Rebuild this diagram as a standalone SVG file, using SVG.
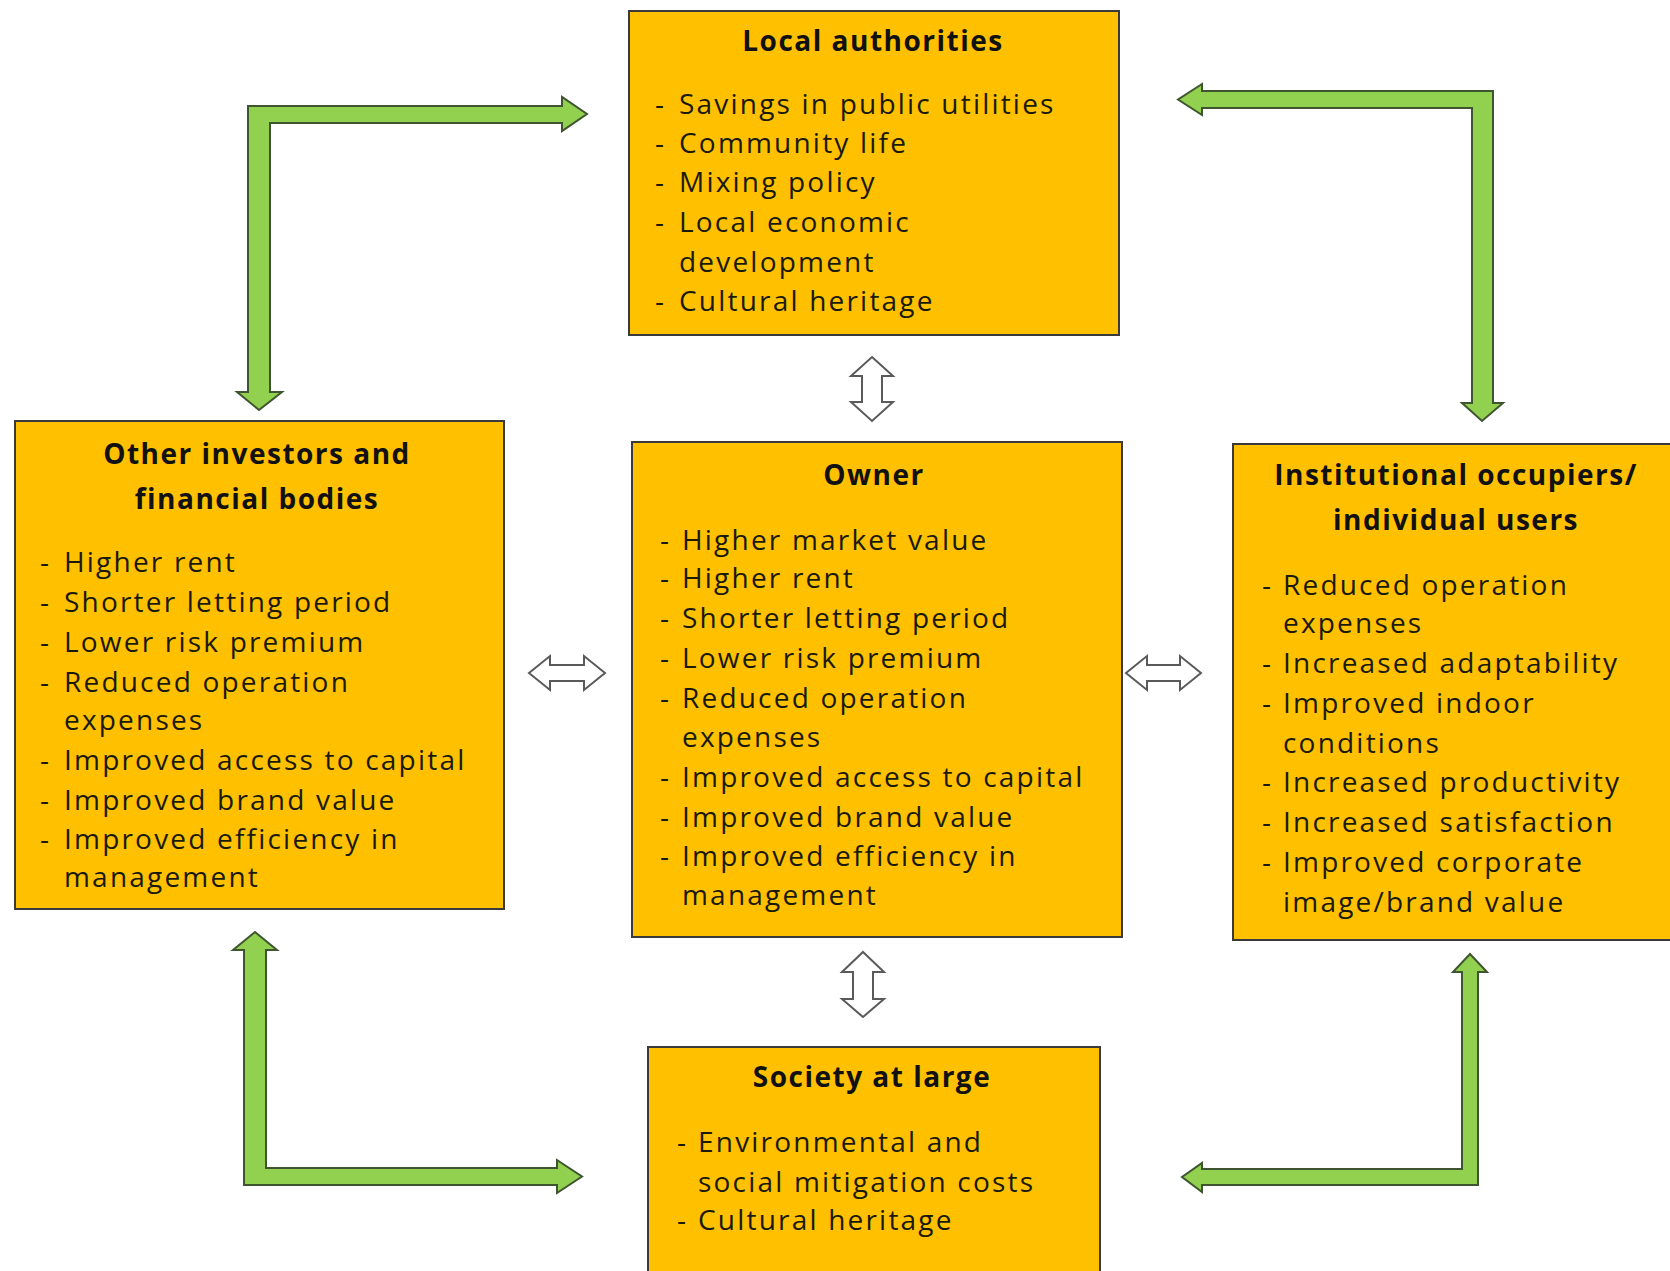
<svg xmlns="http://www.w3.org/2000/svg" width="1670" height="1271" viewBox="0 0 1670 1271">
<style>
.box{fill:#FFC000;stroke:#3a3a3a;stroke-width:2}
.t{font-family:"Open Sans","Noto Sans",sans-serif;font-weight:700;font-size:28px;letter-spacing:1.5px;fill:#111;text-anchor:middle}
.i{font-family:"Open Sans","Noto Sans",sans-serif;font-size:28px;letter-spacing:2.2px;fill:#1a1a0c}
.g{fill:#92D050;stroke:#3f5530;stroke-width:2;stroke-linejoin:miter}
.h{fill:#fff;stroke:#5a5a5a;stroke-width:2}
</style>
<rect width="1670" height="1271" fill="#fff"/>
<g id="connectors">
<polygon class="g" points="248,106 562,106 562,97 587,114 562,131 562,123 270,123 270,392 282,392 259,410 237,392 248,392"/>
<polygon class="g" points="1493,91 1493,403 1503,403 1482,421 1462,403 1472,403 1472,108 1202,108 1202,115 1178,99.5 1202,84 1202,91"/>
<polygon class="g" points="244,1185 244,950 233,950 255,932 277,950 266,950 266,1168 557,1168 557,1160 582,1176.5 557,1193 557,1185"/>
<polygon class="g" points="1478,1185 1202,1185 1202,1192 1182,1177 1202,1163 1202,1169 1462,1169 1462,972 1453,972 1470,954 1487,972 1478,972"/>
<polygon class="h" points="872,357 893,376 882,376 882,402 893,402 872,421 851,402 862,402 862,376 851,376"/>
<polygon class="h" points="863,952 884,972 873,972 873,999 884,999 863,1017 842,999 853,999 853,972 842,972"/>
<polygon class="h" points="529,673 550,656 550,665 584,665 584,656 605,673 584,690 584,681 550,681 550,690"/>
<polygon class="h" points="1126,673 1147,656 1147,665 1180,665 1180,656 1201,673 1180,690 1180,681 1147,681 1147,690"/>
</g>
<g id="local-authorities">
<rect class="box" x="629" y="11" width="490" height="324"/>
<text class="t" x="873" y="51">Local authorities</text>
<text class="i" y="114"><tspan x="655">-</tspan><tspan x="679">Savings in public utilities</tspan></text>
<text class="i" y="153"><tspan x="655">-</tspan><tspan x="679">Community life</tspan></text>
<text class="i" y="192"><tspan x="655">-</tspan><tspan x="679">Mixing policy</tspan></text>
<text class="i" y="232"><tspan x="655">-</tspan><tspan x="679">Local economic</tspan></text>
<text class="i" x="679" y="272">development</text>
<text class="i" y="311"><tspan x="655">-</tspan><tspan x="679">Cultural heritage</tspan></text>
</g>
<g id="other-investors">
<rect class="box" x="15" y="421" width="489" height="488"/>
<text class="t" x="257" y="464">Other investors and</text>
<text class="t" x="257" y="509">financial bodies</text>
<text class="i" y="572"><tspan x="40">-</tspan><tspan x="64">Higher rent</tspan></text>
<text class="i" y="612"><tspan x="40">-</tspan><tspan x="64">Shorter letting period</tspan></text>
<text class="i" y="652"><tspan x="40">-</tspan><tspan x="64">Lower risk premium</tspan></text>
<text class="i" y="692"><tspan x="40">-</tspan><tspan x="64">Reduced operation</tspan></text>
<text class="i" x="64" y="730">expenses</text>
<text class="i" y="770"><tspan x="40">-</tspan><tspan x="64">Improved access to capital</tspan></text>
<text class="i" y="810"><tspan x="40">-</tspan><tspan x="64">Improved brand value</tspan></text>
<text class="i" y="849"><tspan x="40">-</tspan><tspan x="64">Improved efficiency in</tspan></text>
<text class="i" x="64" y="887">management</text>
</g>
<g id="owner">
<rect class="box" x="632" y="442" width="490" height="495"/>
<text class="t" x="874" y="485">Owner</text>
<text class="i" y="550"><tspan x="660">-</tspan><tspan x="682">Higher market value</tspan></text>
<text class="i" y="588"><tspan x="660">-</tspan><tspan x="682">Higher rent</tspan></text>
<text class="i" y="628"><tspan x="660">-</tspan><tspan x="682">Shorter letting period</tspan></text>
<text class="i" y="668"><tspan x="660">-</tspan><tspan x="682">Lower risk premium</tspan></text>
<text class="i" y="708"><tspan x="660">-</tspan><tspan x="682">Reduced operation</tspan></text>
<text class="i" x="682" y="747">expenses</text>
<text class="i" y="787"><tspan x="660">-</tspan><tspan x="682">Improved access to capital</tspan></text>
<text class="i" y="827"><tspan x="660">-</tspan><tspan x="682">Improved brand value</tspan></text>
<text class="i" y="866"><tspan x="660">-</tspan><tspan x="682">Improved efficiency in</tspan></text>
<text class="i" x="682" y="905">management</text>
</g>
<g id="institutional-occupiers">
<rect class="box" x="1233" y="444" width="445" height="496"/>
<text class="t" x="1456" y="485">Institutional occupiers/</text>
<text class="t" x="1456" y="530">individual users</text>
<text class="i" y="595"><tspan x="1262">-</tspan><tspan x="1283">Reduced operation</tspan></text>
<text class="i" x="1283" y="633">expenses</text>
<text class="i" y="673"><tspan x="1262">-</tspan><tspan x="1283">Increased adaptability</tspan></text>
<text class="i" y="713"><tspan x="1262">-</tspan><tspan x="1283">Improved indoor</tspan></text>
<text class="i" x="1283" y="753">conditions</text>
<text class="i" y="792"><tspan x="1262">-</tspan><tspan x="1283">Increased productivity</tspan></text>
<text class="i" y="832"><tspan x="1262">-</tspan><tspan x="1283">Increased satisfaction</tspan></text>
<text class="i" y="872"><tspan x="1262">-</tspan><tspan x="1283">Improved corporate</tspan></text>
<text class="i" x="1283" y="912">image/brand value</text>
</g>
<g id="society">
<rect class="box" x="648" y="1047" width="452" height="240"/>
<text class="t" x="872" y="1087">Society at large</text>
<text class="i" y="1152"><tspan x="677">-</tspan><tspan x="698">Environmental and</tspan></text>
<text class="i" x="698" y="1192">social mitigation costs</text>
<text class="i" y="1230"><tspan x="677">-</tspan><tspan x="698">Cultural heritage</tspan></text>
</g>
</svg>
